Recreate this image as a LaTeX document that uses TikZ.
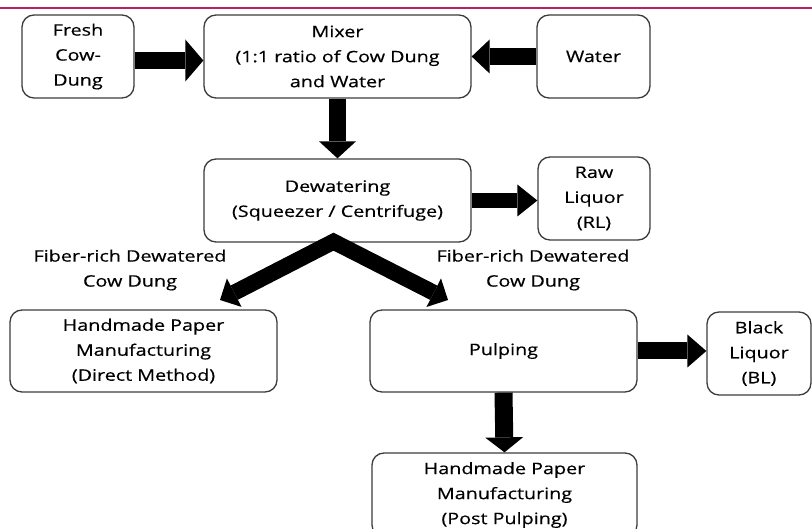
\documentclass[tikz,border=0pt]{standalone}
\usepackage{fontspec}
\setmainfont{Open Sans}[FakeStretch=1.25,FakeBold=0.4]
\usetikzlibrary{arrows.meta,calc}
\definecolor{topline}{RGB}{190,30,100}
\definecolor{boxline}{RGB}{60,60,60}
\begin{document}
\begin{tikzpicture}[x=1pt,y=-1pt,
  box/.style={draw=boxline, line width=1.3pt, rounded corners=12pt, align=center, inner sep=0pt,
    font=\fontsize{15.8}{25}\selectfont, text=black},
  lbl/.style={align=center, inner sep=0pt, font=\fontsize{15.8}{25}\selectfont, text=black},
  fat/.style={draw=black, line width=#1}
]
\useasboundingbox (0,0) rectangle (812,529);
\fill[white] (0,0) rectangle (812,529);
\draw[topline, line width=2pt] (0,8) -- (812,8);

\node[box, minimum width=112pt, minimum height=83pt] (fresh) at (78,56.5) {Fresh\\Cow-\\Dung};
\node[box, minimum width=267pt, minimum height=83pt] (mixer) at (337.5,56.5) {Mixer\\(1:1 ratio of Cow Dung\\and Water};
\node[box, minimum width=113pt, minimum height=83pt] (water) at (593.5,56.5) {Water};
\node[box, minimum width=267pt, minimum height=83pt] (dew) at (337.5,200.5) {Dewatering\\(Squeezer / Centrifuge)};
\node[box, minimum width=112pt, minimum height=83pt] (rl) at (594,198.5) {Raw\\Liquor\\(RL)};
\node[box, minimum width=267pt, minimum height=82pt] (direct) at (143.5,351) {Handmade Paper\\Manufacturing\\(Direct Method)};
\node[box, minimum width=267pt, minimum height=82pt] (pulp) at (503.5,351) {Pulping};
\node[box, minimum width=104pt, minimum height=83pt] (bl) at (759,353.5) {Black\\Liquor\\(BL)};
\node[box, minimum width=265pt, minimum height=84pt] (post) at (504.5,495) {Handmade Paper\\Manufacturing\\(Post Pulping)};

\node[lbl] (lab1) at (130,270) {Fiber-rich Dewatered\\Cow Dung};
\node[lbl] (lab2) at (533,270) {Fiber-rich Dewatered\\Cow Dung};

\draw[fat=17pt, -{Triangle[length=18pt,width=42pt,line width=0pt]}] ($(fresh.east)+(0,4)$) -- ($(mixer.west)+(0,4)$);
\draw[fat=17pt, -{Triangle[length=18pt,width=34pt,line width=0pt]}] (water.west) -- (mixer.east);
\draw[fat=17pt, -{Triangle[length=17pt,width=37pt,line width=0pt]}] (mixer.south) -- (dew.north);
\draw[fat=15pt, -{Triangle[length=20pt,width=32pt,line width=0pt]}] (dew.east) -- (rl.west |- dew.east);
\draw[fat=17pt, -{Triangle[length=19pt,width=33pt,line width=0pt]}] (pulp.east) -- (bl.west |- pulp.east);
\draw[fat=18pt, -{Triangle[length=15pt,width=38pt,line width=0pt]}] (pulp.south) -- (post.north);

\coordinate (apex) at ($(dew.south)+(-4,-1)$);
\coordinate (lt) at (220,300);
\coordinate (rt) at (448,300);
\draw[fat=16pt, line join=miter,
  {Triangle[length=16pt,width=32pt,line width=0pt]}-{Triangle[length=16pt,width=32pt,line width=0pt]}]
  (lt) -- (apex) -- (rt);
\end{tikzpicture}
\end{document}
